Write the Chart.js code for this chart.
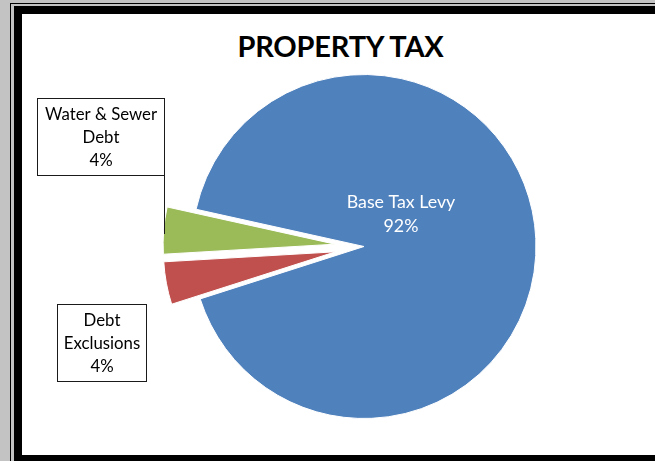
<!DOCTYPE html>
<html>
<head>
<meta charset="utf-8">
<script src="https://cdn.jsdelivr.net/npm/chart.js@4.4.1/dist/chart.umd.min.js"></script>
<style>
  html, body { margin: 0; padding: 0; }
  body { width: 655px; height: 461px; overflow: hidden; background: #c3c3c3; position: relative; }
  #frameThin { position: absolute; left: 10px; top: 3px; width: 800px; height: 800px; border-left: 1px solid #000; border-top: 1px solid #000; }
  #frameThick { position: absolute; left: 14px; top: 6px; width: 800px; height: 441px; border: 8px solid #000; border-right: none; background: #fff; }
  #title { position: absolute; left: 0; top: 31px; width: 681px; text-align: center; font: bold 29px Lato, sans-serif; line-height: 30px; color: #000; letter-spacing: -0.2px; }
  #chart { position: absolute; left: 0; top: 0; }
</style>
</head>
<body>
<div id="frameThin"></div>
<div id="frameThick"></div>
<div id="title">PROPERTY TAX</div>
<canvas id="chart" width="655" height="461"></canvas>
<script>
// Slice names (multi-line as in the picture) and their shares in percent
const categories = ['Base Tax Levy', ['Debt', 'Exclusions'], ['Water & Sewer', 'Debt']];
const shares = [91.6, 4.0, 4.4];

// Styling
const sliceColors = ['#4F81BD', '#C0504D', '#9BBB59'];
const explodeBy = [0, 29, 29];
const labelPlacement = [
    { from: 'center', dx: 37, dy: -33, color: '#fff', size: 17.8, step: 24 },
    { from: 'edge', left: -109, top: 21, w: 89, h: 77, color: '#000', size: 16.8, step: 23 },
    { from: 'edge', left: -127, top: -132, w: 127, h: 77, color: '#000', size: 16.8, step: 23, leader: true },
];

Chart.defaults.font.family = 'Lato, sans-serif';

// Pull the small slices away from the centre, along their middle angle
const explodePlugin = {
    id: 'explode',
    afterDatasetUpdate(chart, args) {
        args.meta.data.forEach((arc, i) => {
            if (arc._exploded) return;
            arc._exploded = true;
            const draw = arc.draw;
            arc.draw = function (ctx) {
                const d = explodeBy[i] || 0;
                const mid = (this.startAngle + this.endAngle) / 2;
                ctx.save();
                ctx.translate(Math.cos(mid) * d, Math.sin(mid) * d);
                draw.call(this, ctx);
                ctx.restore();
            };
        });
    }
};

// Data labels: inside text for the big slice, boxed callouts for the others
const sliceLabelsPlugin = {
    id: 'sliceLabels',
    afterDatasetsDraw(chart) {
        const ctx = chart.ctx;
        const meta = chart.getDatasetMeta(0);
        const values = chart.data.datasets[0].data;
        const total = values.reduce((a, b) => a + b, 0);

        meta.data.forEach((arc, i) => {
            const p = labelPlacement[i];
            const lines = [].concat(chart.data.labels[i], Math.round(values[i] / total * 100) + '%');
            const mid = (arc.startAngle + arc.endAngle) / 2;
            const r = arc.outerRadius + (explodeBy[i] || 0);
            const ax = arc.x + Math.cos(mid) * r;
            const ay = arc.y + Math.sin(mid) * r;
            let cx, cy;

            ctx.save();
            if (p.from === 'center') {
                cx = arc.x + p.dx;
                cy = arc.y + p.dy;
            } else {
                const left = Math.round(ax + p.left) + 0.5;
                const top = Math.round(ay + p.top) + 0.5;
                ctx.fillStyle = '#fff';
                ctx.fillRect(left, top, p.w, p.h);
                ctx.strokeStyle = '#1a1a1a';
                ctx.lineWidth = 1;
                ctx.strokeRect(left, top, p.w, p.h);
                if (p.leader) {
                    ctx.beginPath();
                    ctx.moveTo(left + p.w, top + p.h);
                    ctx.lineTo(left + p.w, Math.round(ay) + 4);
                    ctx.stroke();
                }
                cx = left + p.w / 2;
                cy = top + p.h / 2;
            }
            ctx.fillStyle = p.color;
            ctx.font = p.size + 'px Lato, sans-serif';
            ctx.textAlign = 'center';
            ctx.textBaseline = 'alphabetic';
            const capHalf = p.size * 0.36;
            lines.forEach((line, k) => {
                const y = cy + (k - (lines.length - 1) / 2) * p.step + capHalf;
                ctx.fillText(line, cx, y);
            });
            ctx.restore();
        });
    }
};

new Chart(document.getElementById('chart'), {
    type: 'pie',
    data: {
        labels: categories,
        datasets: [{
            data: shares,
            backgroundColor: sliceColors,
            borderColor: '#fff',
            borderWidth: 1,
        }],
    },
    options: {
        responsive: false,
        animation: false,
        rotation: -77.5,
        radius: 172,
        layout: { padding: { left: 80, right: 7, top: 40, bottom: 8 } },
        plugins: {
            legend: { display: false },
            tooltip: { enabled: false },
            title: { display: false },
        },
    },
    plugins: [explodePlugin, sliceLabelsPlugin],
});
</script>
</body>
</html>
